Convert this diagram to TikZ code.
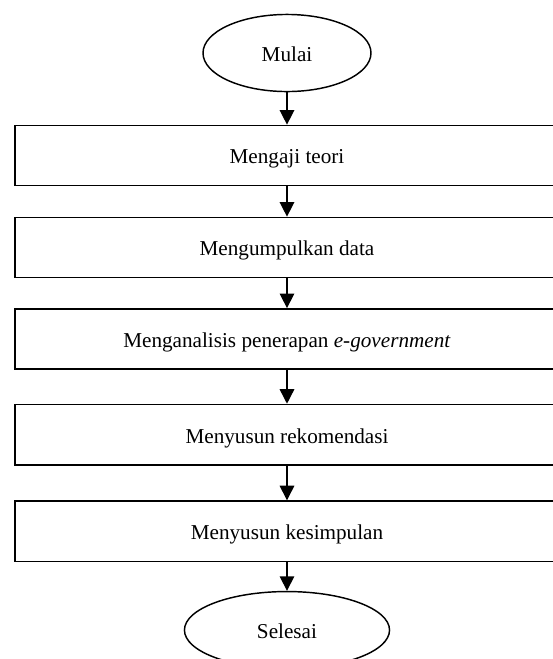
\documentclass[tikz,border=0pt]{standalone}
\usepackage{fontspec}
\setmainfont{Liberation Serif}
\usepackage{tikz}
\usetikzlibrary{positioning,shapes.geometric,arrows.meta}

\begin{document}
\begin{tikzpicture}[node distance=51pt,on grid,line width=0.8pt,
	teks/.style={font=\fontsize{11.65pt}{14pt}\selectfont,text height=10pt,text depth=0.8pt},
	terminal/.style={draw,ellipse,teks,minimum height=42.4pt,inner sep=0pt},
	proses/.style={draw,rectangle,teks,minimum width=299.2pt,minimum height=33.2pt,inner sep=0pt}]
	\useasboundingbox (-157.85pt,29.15pt) rectangle (146.3pt,-333.3pt);
	\node[terminal, minimum width=92.4pt] (mulai) {Mulai};
	\node[proses] (teori) [below=56.4pt of mulai] {Mengaji teori};
	\node[proses] (data) [below=50.6pt of teori] {Mengumpulkan data};
	\node[proses] (analisis) [below=50.3pt of data] {Menganalisis penerapan \textit{e-government}};
	\node[proses] (rekomendasi) [below=52.6pt of analisis] {Menyusun rekomendasi};
	\node[proses] (kesimpulan) [below=53.1pt of rekomendasi] {Menyusun kesimpulan};
	\node[terminal, minimum width=112.8pt] (selesai) [below=54.4pt of kesimpulan] {Selesai};
	\path[-{Triangle[width=8pt,length=8pt]}]
	(mulai) edge (teori)
	(teori) edge (data)
	(data) edge (analisis)
	(analisis) edge (rekomendasi)
	(rekomendasi) edge (kesimpulan)
	(kesimpulan) edge (selesai);
\end{tikzpicture}
\end{document}
